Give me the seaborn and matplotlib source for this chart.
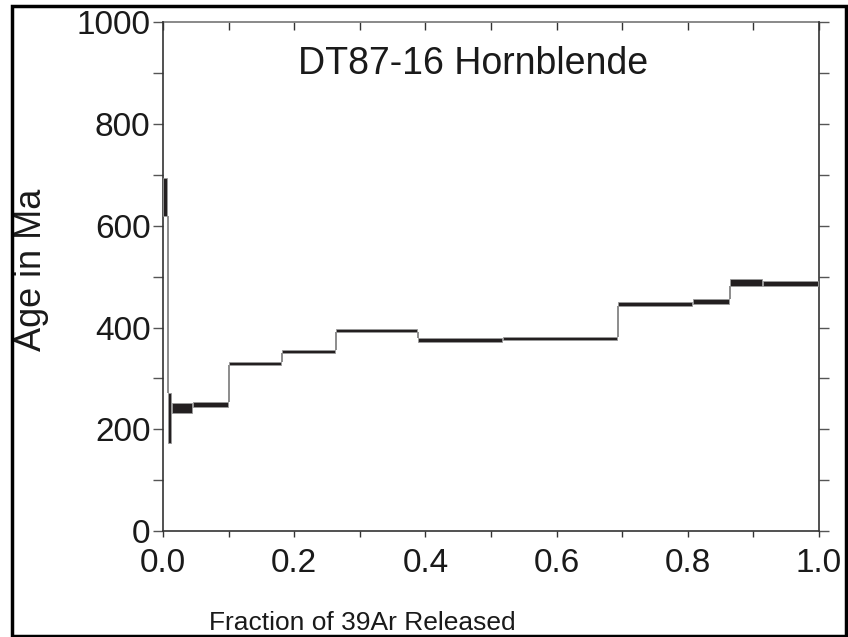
import numpy as np
import matplotlib
matplotlib.use('Agg')
import matplotlib.pyplot as plt
from matplotlib.ticker import MultipleLocator, FormatStrFormatter
from matplotlib.patches import Rectangle
import seaborn as sns

# step boundaries (cumulative fraction of 39Ar released)
frac_edges = [0, 0.008, 0.014, 0.045, 0.101, 0.181, 0.264, 0.389, 0.519, 0.693, 0.808, 0.865, 0.915, 1.0]
# apparent age of each step and its error (Ma)
age = [657, 222, 242, 249, 329, 353, 394, 376, 379, 446, 451, 489, 487]
err = [37, 49, 10, 5, 3, 3, 3, 4, 3, 4, 5, 7, 5]

sample = 'DT87-16 Hornblende'

sns.set_style('white')
plt.rcParams['font.family'] = ['Liberation Sans', 'DejaVu Sans']

left = np.array(frac_edges[:-1])
right = np.array(frac_edges[1:])
age = np.array(age)
err = np.array(err)
top = age + err
bot = age - err

fig = plt.figure(figsize=(8.48, 6.37), dpi=100)
ax = fig.add_axes([163 / 848, 1 - 531 / 637, 656 / 848, 508.5 / 637])

# age boxes
ax.bar(left, top - bot, bottom=bot, width=(right - left) - 0.0015, align='edge',
       color='#231f20', edgecolor='#9a9a9a', linewidth=0.6, zorder=3)

# thin connectors between steps that do not overlap
for i in range(len(age) - 1):
    y1 = min(top[i], top[i + 1])
    y2 = max(bot[i], bot[i + 1])
    if y1 < y2:
        ax.vlines(right[i], y1, y2, color='#6e6e6e', linewidth=1.1, zorder=2)

ax.set_xlim(0, 1)
ax.set_ylim(0, 1000)
ax.xaxis.set_major_locator(MultipleLocator(0.2))
ax.xaxis.set_minor_locator(MultipleLocator(0.1))
ax.yaxis.set_major_locator(MultipleLocator(200))
ax.yaxis.set_minor_locator(MultipleLocator(100))
ax.xaxis.set_major_formatter(FormatStrFormatter('%.1f'))

ax.tick_params(axis='x', which='both', bottom=True, top=False, direction='out',
               length=4, width=1, color='#333333', labelsize=24, pad=8, labelcolor='#1a1a1a')
ax.tick_params(axis='y', which='both', left=True, right=True, direction='out',
               length=7, width=1, color='#555555', labelsize=24, pad=2, labelcolor='#1a1a1a')
ax.tick_params(axis='y', which='both', labelright=False)

secx = ax.secondary_xaxis('top')
secx.xaxis.set_major_locator(MultipleLocator(0.1))
secx.tick_params(axis='x', which='both', direction='in', length=6, width=1,
                 color='#333333', labeltop=False)
secx.spines['top'].set_color('#808080')
secx.spines['top'].set_linewidth(1.3)
ax.spines['top'].set_visible(False)

for s in ['left', 'right', 'bottom']:
    ax.spines[s].set_color('#333333')
    ax.spines[s].set_linewidth(1.2)

ax.text(0.473, 0.918, sample, transform=ax.transAxes, ha='center', va='center',
        fontsize=27, color='#1a1a1a')

ax.set_xlabel('Fraction of 39Ar Released', fontsize=19, color='#1a1a1a',
              ha='left', va='baseline')
ax.xaxis.set_label_coords(0.070, -0.1947)
ax.set_ylabel('Age in Ma', fontsize=26, color='#1a1a1a', ha='center', va='center')
ax.yaxis.set_label_coords(-0.2, 0.513)

# frame around the whole figure
fig.patches.append(Rectangle((12 / 848, 1.5 / 637), 834 / 848, 630 / 637, transform=fig.transFigure,
                             fill=False, edgecolor='black', linewidth=2.5))

fig.savefig('out.png', dpi=100)
